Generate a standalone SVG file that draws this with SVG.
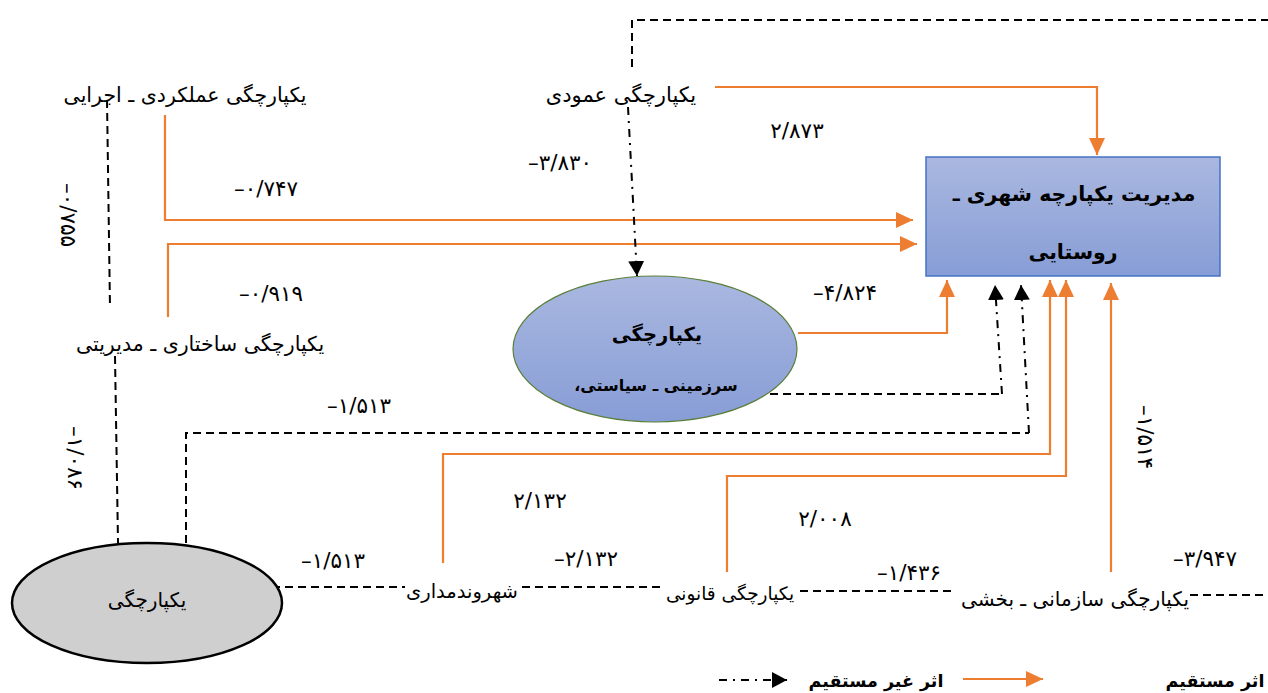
<svg xmlns="http://www.w3.org/2000/svg" width="1268" height="693" viewBox="0 0 1268 693">
<style>
.lbl{font-family:"DejaVu Sans",sans-serif;font-size:20px;fill:#000;direction:rtl;text-anchor:middle}
.bold{font-weight:bold}
.num{font-family:"DejaVu Sans",sans-serif;font-size:21.5px;fill:#000;text-anchor:middle}
.or{fill:none;stroke:#ed7d31;stroke-width:2.2}
.da{fill:none;stroke:#000;stroke-width:2;stroke-dasharray:8 5}
.dd{fill:none;stroke:#000;stroke-width:2;stroke-dasharray:8 6 2 6}
</style>
<defs>
<linearGradient id="blue" x1="0" y1="0" x2="0" y2="1">
<stop offset="0" stop-color="#aab8e0"/>
<stop offset="1" stop-color="#879dd6"/>
</linearGradient>
<marker id="ao" markerUnits="userSpaceOnUse" markerWidth="18" markerHeight="18" refX="17" refY="8" orient="auto">
<path d="M0,0 L17,8 L0,16 z" fill="#ed7d31"/>
</marker>
<marker id="ab" markerUnits="userSpaceOnUse" markerWidth="18" markerHeight="18" refX="15" refY="8" orient="auto">
<path d="M0,0 L15,8 L0,16 z" fill="#000"/>
</marker>
</defs>
<rect width="1268" height="693" fill="#fff"/>

<g id="connectors">
<path class="or" d="M165,115 V220 H913" marker-end="url(#ao)"/>
<path class="or" d="M168,317 V244 H917" marker-end="url(#ao)"/>
<path class="or" d="M715,87 H1097 V155" marker-end="url(#ao)"/>
<path class="or" d="M798,333 H947 V280" marker-end="url(#ao)"/>
<path class="or" d="M443,563 V454 H1050 V280" marker-end="url(#ao)"/>
<path class="or" d="M727,572 V476 H1066 V280" marker-end="url(#ao)"/>
<path class="or" d="M1111,572 V283" marker-end="url(#ao)"/>
<path class="dd" d="M628,107 L637,276" marker-end="url(#ab)"/>
<path class="da" d="M770,394 H1002"/>
<path class="dd" d="M1002,394 L995,285" marker-end="url(#ab)"/>
<path class="da" d="M186,543 V433 H1029"/>
<path class="dd" d="M1029,433 L1021,285" marker-end="url(#ab)"/>
<path class="da" d="M632,67 V20 H1268"/>
<path class="da" d="M1190,595 H1268"/>
<path class="da" d="M272,587 H405"/>
<path class="da" d="M522,587 H662"/>
<path class="da" d="M800,591 H955"/>
<path class="da" d="M107,100 L110,308"/>
<path class="da" d="M115,356 L118,543"/>
</g>

<g id="labels-values">
<text class="num" x="266" y="196">–۰/۷۴۷</text>
<text class="num" x="271" y="301">–۰/۹۱۹</text>
<text class="num" x="560" y="170">–۳/۸۳۰</text>
<text class="num" x="797" y="138">۲/۸۷۳</text>
<text class="num" x="845" y="300">–۴/۸۲۴</text>
<text class="num" x="359" y="413">–۱/۵۱۳</text>
<text class="num" x="333" y="568">–۱/۵۱۳</text>
<text class="num" x="540" y="508">۲/۱۳۲</text>
<text class="num" x="586" y="566">–۲/۱۳۲</text>
<text class="num" x="825" y="526">۲/۰۰۸</text>
<text class="num" x="909" y="580">–۱/۴۳۶</text>
<text class="num" x="1205" y="566">–۳/۹۴۷</text>
<text class="num" transform="translate(68,215) rotate(90)" dominant-baseline="central">–۰/۷۵۵</text>
<text class="num" transform="translate(75,458) rotate(90)" dominant-baseline="central">–۱/۰۸۶</text>
<text class="num" transform="translate(1145,437) rotate(90)" dominant-baseline="central">–۱/۵۱۴</text>
</g>

<g id="node-main">
<rect x="926" y="157" width="294" height="119" fill="url(#blue)" stroke="#4472c4" stroke-width="1.5"/>
<text class="lbl bold" x="1074" y="201" style="font-size:20.5px">مدیریت یکپارچه شهری ـ</text>
<text class="lbl bold" x="1073" y="259" style="font-size:20.5px">روستایی</text>
</g>

<g id="node-territorial">
<ellipse cx="655" cy="349" rx="142" ry="73" fill="url(#blue)" stroke="#5b7f3a" stroke-width="1.2"/>
<text class="lbl bold" x="657" y="341" style="font-size:19.5px">یکپارچگی</text>
<text class="lbl bold" x="656" y="391" style="font-size:16px">سرزمینی ـ سیاستی،</text>
</g>

<g id="node-integration">
<ellipse cx="147" cy="603" rx="135" ry="60" fill="#d0cfd0" stroke="#000" stroke-width="2.5"/>
<text class="lbl" x="147" y="607">یکپارچگی</text>
</g>

<g id="node-functional">
<text class="lbl" x="185" y="102" style="font-size:20.5px">یکپارچگی عملکردی ـ اجرایی</text>
</g>
<g id="node-vertical">
<text class="lbl" x="621" y="102" style="font-size:21px">یکپارچگی عمودی</text>
</g>
<g id="node-structural">
<text class="lbl" x="200" y="351" style="font-size:20.5px">یکپارچگی ساختاری ـ مدیریتی</text>
</g>
<g id="node-citizen">
<text class="lbl" x="462" y="598" style="font-size:19.5px">شهروندمداری</text>
</g>
<g id="node-legal">
<text class="lbl" x="730" y="600" style="font-size:18.5px">یکپارچگی قانونی</text>
</g>
<g id="node-organizational">
<text class="lbl" x="1075" y="606">یکپارچگی سازمانی ـ بخشی</text>
</g>

<g id="legend">
<text class="lbl bold" x="1215" y="687" style="font-size:17.5px">اثر مستقیم</text>
<path class="or" d="M963,679 H1043" marker-end="url(#ao)"/>
<text class="lbl bold" x="876" y="687" style="font-size:17.5px">اثر غیر مستقیم</text>
<path class="dd" d="M719,680 H787" marker-end="url(#ab)"/>
</g>
</svg>
